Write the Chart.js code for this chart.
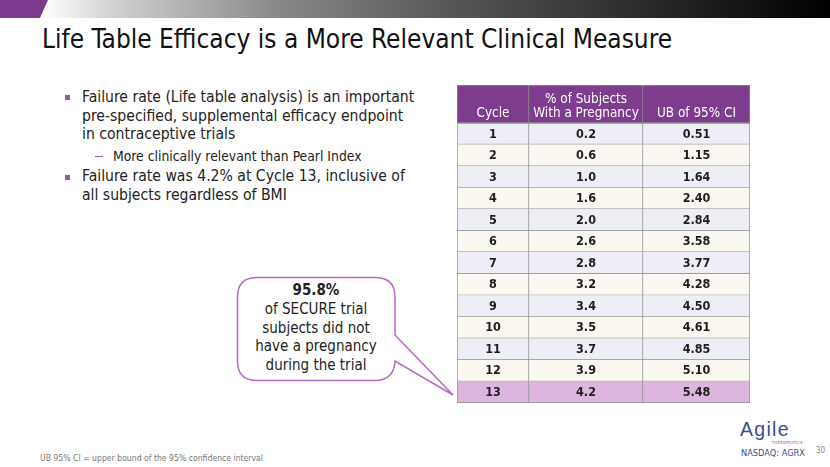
<!DOCTYPE html>
<html>
<head>
<meta charset="utf-8">
<script src="https://cdn.jsdelivr.net/npm/chart.js@4.4.1/dist/chart.umd.min.js"></script>
<style>
  html, body { margin: 0; padding: 0; background: #fff; }
  #slide { position: relative; width: 830px; height: 467px; overflow: hidden; background: #fff;
           font-family: "DejaVu Sans Condensed", "DejaVu Sans", sans-serif; }
  .abs { position: absolute; white-space: nowrap; }
  #purple { left: 0; top: 0; width: 60px; height: 18px; background: #7B3A8E;
            clip-path: polygon(0 0, 48px 0, 40px 18px, 0 18px); }
  #grad { left: 0; top: 0; width: 830px; height: 18px;
          background: linear-gradient(to right, #ffffff 5%, #d0d0d0 14%, #8a8a8a 33%, #555 55%, #2a2a2a 78%, #000 100%);
          clip-path: polygon(50px 0, 830px 0, 830px 18px, 42px 18px); }
  #title { left: 42px; top: 24px; font-family: "DejaVu Sans Condensed", sans-serif;
           font-size: 26px; color: #111; }
  .bul { position: absolute; width: 5px; height: 5px; background: #8E5FA0; }
  .btxt { position: absolute; left: 82px; font-size: 15.6px; line-height: 18.6px; color: #222; white-space: nowrap; }
  .sub { position: absolute; left: 113px; font-size: 13.8px; color: #222; white-space: nowrap; }
  .dash { position: absolute; left: 95px; width: 8px; height: 1px; background: #8E5FA0; }
  #callout { position: absolute; left: 0; top: 0; }
  #ctext { left: 237px; top: 281px; width: 158px; text-align: center; font-size: 15px; line-height: 18.8px; color: #222; }
  #foot { left: 40px; top: 453px; font-size: 8.6px; color: #777; }
  #agile { left: 740px; top: 418px; font-family: "Liberation Sans", sans-serif; font-size: 19.5px; color: #3E4C8E; letter-spacing: 1.3px; }
  #ther { left: 772px; top: 440px; font-size: 4px; color: #8E4A9E; letter-spacing: 0.3px; }
  #nasdaq { left: 741px; top: 447px; font-size: 9.2px; color: #3E4C8E; }
  #pnum { left: 816px; top: 446px; font-size: 8px; color: #888; }
  #hdrWrap { position: absolute; left: 457px; top: 85px; width: 293px; height: 38px; }
  #bodyWrap { position: absolute; left: 457px; top: 123px; width: 293px; height: 280px; }
</style>
</head>
<body>
<div id="slide">
  <div class="abs" id="grad"></div>
  <div class="abs" id="purple"></div>
  <div class="abs" id="title">Life Table Efficacy is a More Relevant Clinical Measure</div>

  <div class="bul" style="left:65px; top:95px;"></div>
  <div class="btxt" style="top:88px;">Failure rate (Life table analysis) is an important<br>pre-specified, supplemental efficacy endpoint<br>in contraceptive trials</div>
  <div class="dash" style="top:156px;"></div>
  <div class="sub" style="top:148px;">More clinically relevant than Pearl Index</div>
  <div class="bul" style="left:65px; top:175px;"></div>
  <div class="btxt" style="top:167px;">Failure rate was 4.2% at Cycle 13, inclusive of<br>all subjects regardless of BMI</div>

  <svg id="callout" width="830" height="467">
    <path d="M 257 277.5 H 375 Q 395 277.5 395 297 V 335 L 453 395 L 395 361 Q 394 380.5 375 380.5 H 257 Q 237.5 380.5 237.5 361 V 297 Q 237.5 277.5 257 277.5 Z"
          fill="#fff" stroke="#B46AC4" stroke-width="1.5"/>
  </svg>
  <div class="abs" id="ctext"><b>95.8%</b><br>of SECURE trial<br>subjects did not<br>have a pregnancy<br>during the trial</div>

  <div id="hdrWrap"><canvas id="hdr"></canvas></div>
  <div id="bodyWrap"><canvas id="tbl"></canvas></div>

  <div class="abs" id="foot">UB 95% CI = upper bound of the 95% confidence interval</div>
  <div class="abs" id="agile">Agile</div>
  <div class="abs" id="ther">THERAPEUTICS</div>
  <div class="abs" id="nasdaq">NASDAQ: AGRX</div>
  <div class="abs" id="pnum">30</div>
</div>

<script>
// ---- data ----
const headerLabels = [['Cycle'], ['% of Subjects', 'With a Pregnancy'], ['UB of 95% CI']];
const cycles = ['1', '2', '3', '4', '5', '6', '7', '8', '9', '10', '11', '12', '13'];
const pctPregnancy = [0.2, 0.6, 1.0, 1.6, 2.0, 2.6, 2.8, 3.2, 3.4, 3.5, 3.7, 3.9, 4.2];
const ub95 = [0.51, 1.15, 1.64, 2.40, 2.84, 3.58, 3.77, 4.28, 4.50, 4.61, 4.85, 5.10, 5.48];
const highlightCycle = '13';

// ---- layout / style (not data) ----
const colEdges = [0, 72, 186, 293];
const headerColor = '#7D3C8E';
const oddRow = '#EEEEF7';
const evenRow = '#FBF8F2';
const hiRow = '#DDB6DF';
const gridColor = '#8f8f8f';
const cellFont = 'bold 12.5px "DejaVu Sans Condensed", "DejaVu Sans", sans-serif';
const headFont = '13.4px "DejaVu Sans Condensed", "DejaVu Sans", sans-serif';

const cellText = [
  cycles,
  pctPregnancy.map(v => v.toFixed(1)),
  ub95.map(v => v.toFixed(2))
];

function cellDatasets(rowLabels, colorFn) {
  return [0, 1, 2].map(c => ({
    label: 'col' + c,
    data: rowLabels.map(() => [colEdges[c], colEdges[c + 1]]),
    backgroundColor: ctx => colorFn(ctx.dataIndex),
    borderColor: gridColor,
    borderWidth: ctx => ({
      left: c === 0 ? 1 : 0,
      right: 1,
      top: (ctx.dataIndex === 0) ? 1 : 0,
      bottom: 1
    }),
    borderSkipped: false,
    grouped: false,
    categoryPercentage: 1,
    barPercentage: 1
  }));
}

function baseOptions() {
  return {
    indexAxis: 'y',
    responsive: true,
    maintainAspectRatio: false,
    animation: false,
    events: [],
    layout: { padding: 0 },
    plugins: { legend: { display: false }, tooltip: { enabled: false } },
    scales: {
      x: { type: 'linear', min: colEdges[0], max: colEdges[colEdges.length - 1], display: false },
      y: { type: 'category', display: false, offset: true, grid: { display: false } }
    }
  };
}

const bodyTextPlugin = {
  id: 'bodyText',
  afterDatasetsDraw(chart) {
    const ctx = chart.ctx;
    ctx.save();
    ctx.font = cellFont;
    ctx.fillStyle = '#1e1e1e';
    ctx.textAlign = 'center';
    ctx.textBaseline = 'middle';
    chart.data.datasets.forEach((ds, c) => {
      chart.getDatasetMeta(c).data.forEach((el, r) => {
        const p = el.getProps(['x', 'y', 'base'], true);
        ctx.fillText(cellText[c][r], (p.x + p.base) / 2, p.y + 0.5);
      });
    });
    ctx.restore();
  }
};

const headTextPlugin = {
  id: 'headText',
  afterDatasetsDraw(chart) {
    const ctx = chart.ctx;
    ctx.save();
    ctx.font = headFont;
    ctx.fillStyle = '#ffffff';
    ctx.textAlign = 'center';
    ctx.textBaseline = 'middle';
    chart.data.datasets.forEach((ds, c) => {
      chart.getDatasetMeta(c).data.forEach(el => {
        const p = el.getProps(['x', 'y', 'base', 'height'], true);
        const lines = headerLabels[c];
        const bottom = p.y + p.height / 2;
        const lh = 14.5;
        lines.forEach((t, i) => {
          ctx.fillText(t, (p.x + p.base) / 2, bottom - 9 - (lines.length - 1 - i) * lh);
        });
      });
    });
    ctx.restore();
  }
};

new Chart(document.getElementById('hdr'), {
  type: 'bar',
  data: { labels: ['header'], datasets: cellDatasets(['header'], () => headerColor) },
  options: baseOptions(),
  plugins: [headTextPlugin]
});

new Chart(document.getElementById('tbl'), {
  type: 'bar',
  data: {
    labels: cycles,
    datasets: cellDatasets(cycles, i => cycles[i] === highlightCycle ? hiRow : (i % 2 === 0 ? oddRow : evenRow))
  },
  options: baseOptions(),
  plugins: [bodyTextPlugin]
});
</script>
</body>
</html>
